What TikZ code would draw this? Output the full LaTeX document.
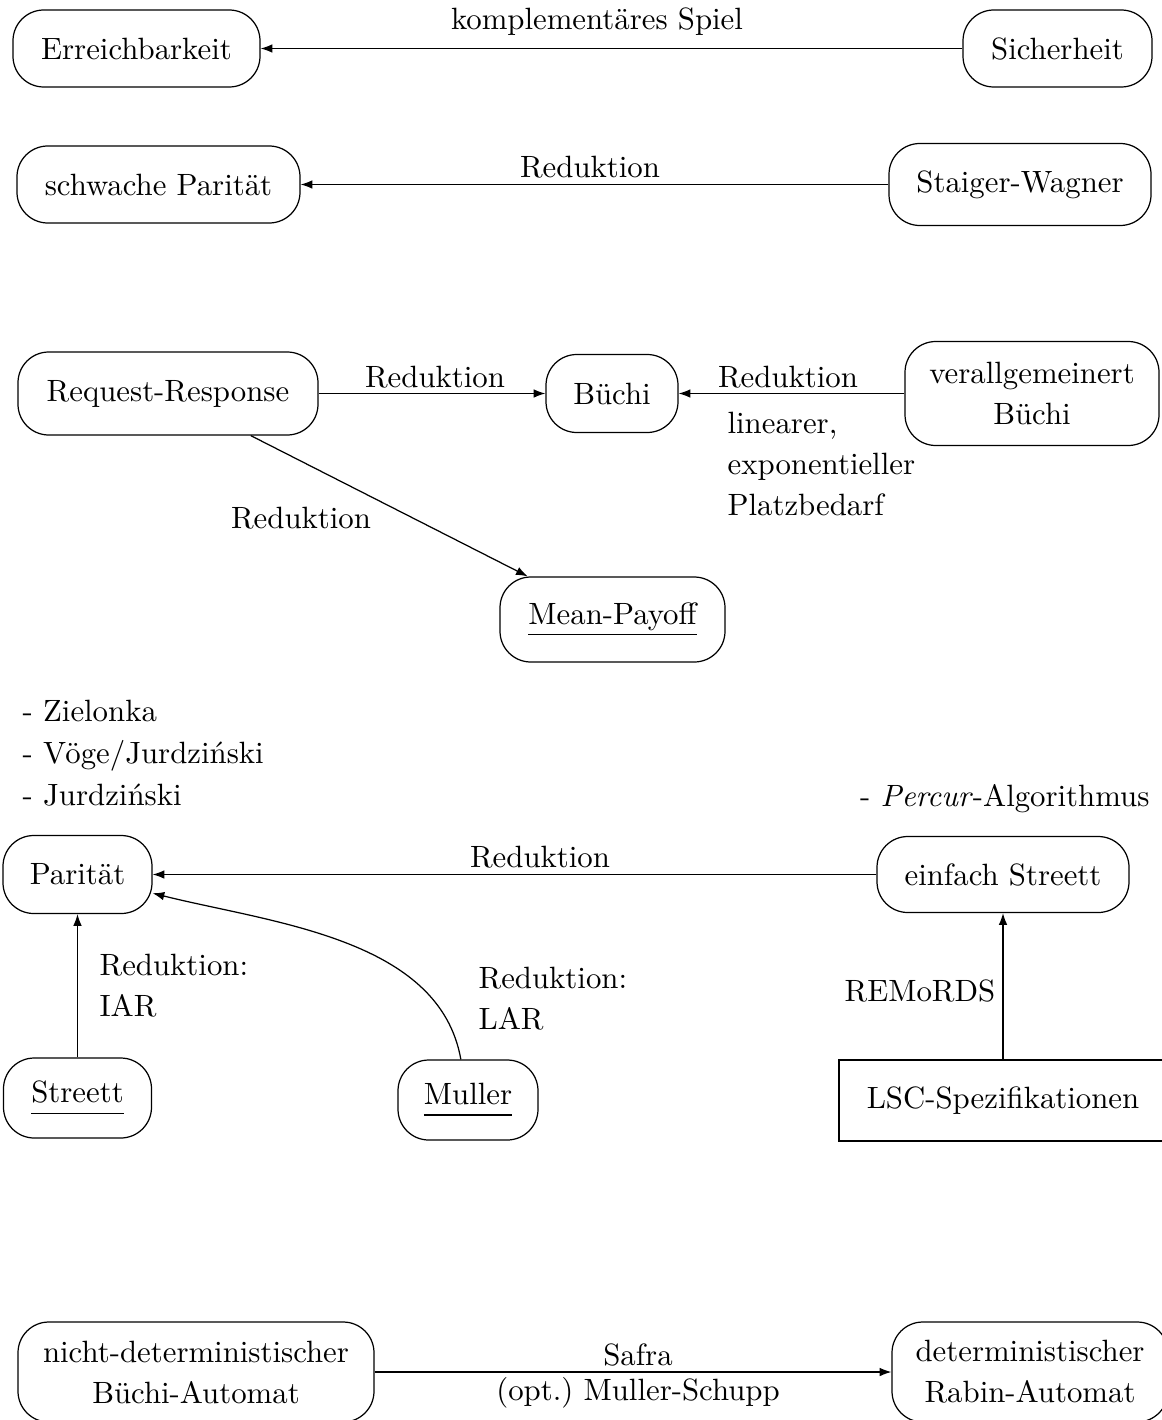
\documentclass[tikz,border=0pt]{standalone}
\usetikzlibrary{arrows.meta}
\begin{document}
\begin{tikzpicture}[x=0.3247pt,y=-0.3247pt,
  game/.style={draw, rounded corners=10pt, inner sep=0pt, align=center},
  spec/.style={draw, inner sep=0pt, align=center},
  lbl/.style={inner sep=0pt},
  arr/.style={-{Latex[length=3.8pt,width=2.8pt]}}]
\def\p{0.3247pt}
\useasboundingbox (0,0) rectangle (1161,1420);

% game types
\node[game, minimum width=247*\p, minimum height=77*\p] (err) at (136.5,48.5) {Erreichbarkeit};
\node[game, minimum width=189*\p, minimum height=77*\p] (sich) at (1057.5,48.5) {Sicherheit};
\node[game, minimum width=283*\p, minimum height=77*\p] (schw) at (158.5,184.5) {schwache Parität};
\node[game, minimum width=262*\p, minimum height=82*\p] (stw) at (1020,184.5) {Staiger-Wagner};
\node[game, minimum width=300*\p, minimum height=83*\p] (rr) at (168,393.5) {Request-Response};
\node[game, minimum width=132*\p, minimum height=78*\p] (bu) at (612,393.5) {Büchi};
\node[game, minimum width=254*\p, minimum height=104*\p] (vb) at (1032,393.5) {verallgemeinert\\[1.3pt]Büchi};
\node[game, minimum width=225*\p, minimum height=85*\p] (mp) at (612.5,619.5) {\underline{Mean-Payoff}};
\node[game, minimum width=149*\p, minimum height=78*\p] (par) at (77.5,874.5) {Parität};
\node[game, minimum width=252*\p, minimum height=76*\p] (es) at (1003,874.5) {einfach Streett};
\node[game, minimum width=148*\p, minimum height=80*\p] (str) at (77.5,1098) {\underline{\vphantom{y}Streett}};
\node[game, minimum width=140*\p, minimum height=80*\p] (mul) at (468,1100) {\underline{\vphantom{y}Muller}};
\node[spec, minimum width=328*\p, minimum height=81*\p] (lsc) at (1003,1100.5) {LSC-Spezifikationen};
\node[game, minimum width=356*\p, minimum height=100*\p] (nd) at (196,1372) {nicht-deterministischer\\[1.3pt]Büchi-Automat};
\node[game, minimum width=276*\p, minimum height=100*\p] (dr) at (1030,1372) {deterministischer\\[1.3pt]Rabin-Automat};

% connectors
\draw[arr] (sich) -- (err);
\draw[arr] (stw) -- (schw);
\draw[arr] (rr) -- (bu);
\draw[arr] (vb) -- (bu);
\draw[arr] (rr) -- (mp);
\draw[arr] (es) -- (par);
\draw[arr] (mul) to[out=100,in=-14,looseness=0.9] (par);
\draw[arr] (str) -- (par);
\draw[arr] (lsc) -- (es);
\draw[arr] (nd) -- (dr);

% labels
\node[lbl] (l1) at (597,22) {komplementäres Spiel};
\node[lbl] (l2) at (590,167) {Reduktion};
\node[lbl] (l3) at (435,377) {Reduktion};
\node[lbl] (l4) at (788,377) {Reduktion};
\node[lbl, anchor=west, align=left] (l5) at (727,464) {linearer,\\[1.3pt]exponentieller\\[1.3pt]Platzbedarf};
\node[lbl] (l6) at (301,518) {Reduktion};
\node[lbl, anchor=west, align=left] (alg) at (22,753) {- Zielonka\\[1.6pt]- Vöge/Jurdziński\\[1.6pt]- Jurdziński};
\node[lbl, anchor=east] (perc) at (1150,799) {- \textit{Percur}-Algorithmus};
\node[lbl] (l7) at (540,857) {Reduktion};
\node[lbl, anchor=west, align=left] (l8) at (99,986) {Reduktion:\\[1.3pt]IAR};
\node[lbl, anchor=west, align=left] (l9) at (478,999) {Reduktion:\\[1.3pt]LAR};
\node[lbl] (l10) at (920,991) {REMoRDS};
\node[lbl] (l11) at (638,1355) {Safra};
\node[lbl] (l12) at (638,1393) {(opt.)\ Muller-Schupp};
\end{tikzpicture}
\end{document}
